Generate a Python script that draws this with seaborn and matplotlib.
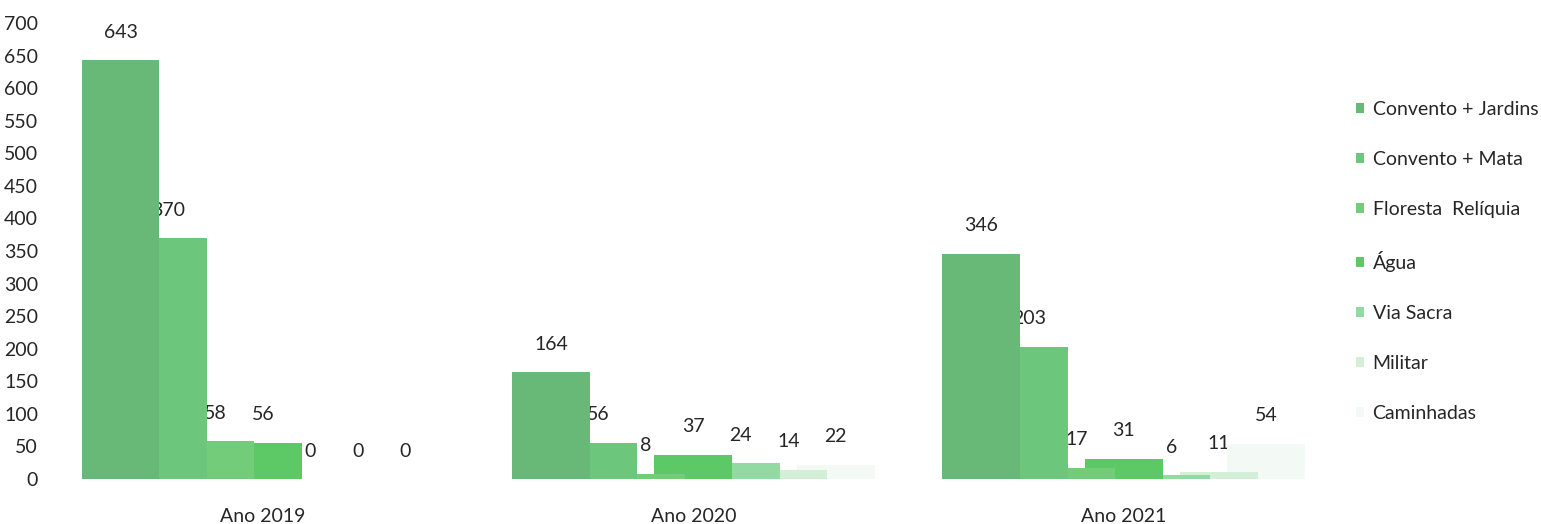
import matplotlib
matplotlib.use('Agg')
import matplotlib.pyplot as plt
import pandas as pd
import seaborn as sns

# data
anos = ["Ano 2019", "Ano 2020", "Ano 2021"]
percursos = ["Convento + Jardins", "Convento + Mata", "Floresta  Relíquia",
             "Água", "Via Sacra", "Militar", "Caminhadas"]
convento_jardins = [643, 164, 346]
convento_mata = [370, 56, 203]
floresta_reliquia = [58, 8, 17]
agua = [56, 37, 31]
via_sacra = [0, 24, 6]
militar = [0, 14, 11]
caminhadas = [0, 22, 54]

cores = ["#68b878", "#6cc67c", "#72cc7a", "#5cc866", "#93d9a2", "#d3efd8", "#f3f9f4"]

series = [convento_jardins, convento_mata, floresta_reliquia, agua,
          via_sacra, militar, caminhadas]
rows = []
for nome, vals in zip(percursos, series):
    for ano, v in zip(anos, vals):
        rows.append({"ano": ano, "percurso": nome, "visitantes": v})
df = pd.DataFrame(rows)

sns.set_style("white")
plt.rcParams['font.family'] = ['Lato', 'DejaVu Sans']
txt_color = "#262626"
fs = 14

fig = plt.figure(figsize=(15.41, 5.24), dpi=100)
ax = fig.add_axes([45 / 1541, 45 / 524, 1285 / 1541, 456 / 524])

sns.barplot(data=df, x="ano", y="visitantes", hue="percurso", order=anos,
            hue_order=percursos, palette=cores, width=0.7725, saturation=1,
            errorbar=None, legend=False, ax=ax)

# bars overlap in the original, earlier series drawn on top
bar_w = 0.181
for i, cont in enumerate(ax.containers):
    for bar in cont:
        cx = bar.get_x() + bar.get_width() / 2
        bar.set_width(bar_w)
        bar.set_x(cx - bar_w / 2)
        bar.set_zorder(10 - i)
        bar.set_linewidth(0)
    labels = ax.bar_label(cont, padding=14, fontsize=fs, color=txt_color)
    for t in labels:
        t.set_zorder(2)

ax.set_ylim(0, 700)
ax.set_xlim(-0.5064, 2.4791)
ax.set_yticks(range(0, 701, 50))
ax.tick_params(axis='y', length=0, pad=5, labelsize=fs, labelcolor=txt_color)
ax.tick_params(axis='x', length=0, pad=21, labelsize=fs, labelcolor=txt_color)
ax.set_xlabel("")
ax.set_ylabel("")
sns.despine(ax=ax, left=True, bottom=True)

handles = [cont.patches[0] for cont in ax.containers]
fig.legend(handles, percursos, loc='upper left', bbox_to_anchor=(1356 / 1541, 0.808),
           frameon=False, fontsize=14, handlelength=0.4, handleheight=0.4,
           handletextpad=0.45, labelspacing=1.7, borderpad=0, borderaxespad=0,
           labelcolor=txt_color)

fig.savefig("out.png", dpi=100)
plt.close(fig)
